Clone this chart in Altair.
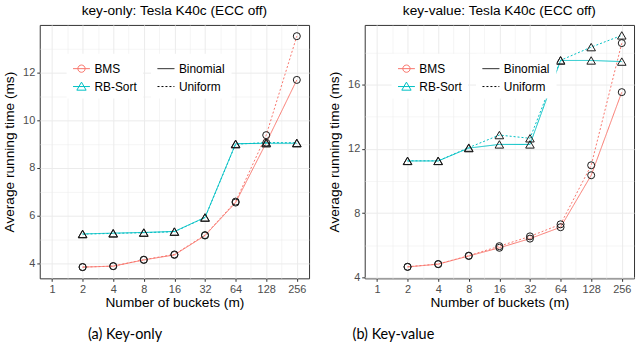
import altair as alt
import pandas as pd

# ---------------- data ----------------
buckets = [2, 4, 8, 16, 32, 64, 128, 256]
methods = ["BMS", "RB-Sort"]
dists = ["Binomial", "Uniform"]

# key-only panel
ko_bms_binomial = [3.85, 3.89, 4.15, 4.36, 5.17, 6.55, 9.05, 11.68]
ko_bms_uniform = [3.85, 3.89, 4.16, 4.38, 5.19, 6.59, 9.37, 13.51]
ko_rb_binomial = [5.24, 5.27, 5.30, 5.34, 5.93, 9.01, 9.03, 9.03]
ko_rb_uniform = [5.23, 5.26, 5.29, 5.33, 5.92, 8.99, 9.06, 9.05]

# key-value panel
kv_bms_binomial = [4.65, 4.82, 5.33, 5.84, 6.41, 7.12, 10.35, 15.52]
kv_bms_uniform = [4.66, 4.83, 5.35, 5.94, 6.55, 7.30, 10.97, 18.57]
kv_rb_binomial = [11.24, 11.24, 12.04, 12.27, 12.27, 17.49, 17.49, 17.42]
kv_rb_uniform = [11.25, 11.25, 12.07, 12.85, 12.65, 17.50, 18.32, 19.05]

titles = ["key-only: Tesla K40c (ECC off)", "key-value: Tesla K40c (ECC off)"]
captions = ["(a) Key-only", "(b) Key-value"]

FONT = "Liberation Sans"
RED = "#F8766D"
CYAN = "#00BFC4"

CIRCLE_KEY = "M-1,0L1,0M0.43,0A0.43,0.43,0,1,1,-0.43,0A0.43,0.43,0,1,1,0.43,0"
TRI_KEY = "M-1,0L1,0M0,-0.52L0.55,0.43L-0.55,0.43Z"

INDEP = dict(color="independent", shape="independent", stroke="independent", strokeDash="independent")


def long_df(series):
    rows = []
    for (method, dist), vals in series.items():
        for b, v in zip(buckets, vals):
            rows.append({"m": b, "time": v, "method": method, "dist": dist})
    return pd.DataFrame(rows)


df_ko = long_df({
    ("BMS", "Binomial"): ko_bms_binomial,
    ("BMS", "Uniform"): ko_bms_uniform,
    ("RB-Sort", "Binomial"): ko_rb_binomial,
    ("RB-Sort", "Uniform"): ko_rb_uniform,
})
df_kv = long_df({
    ("BMS", "Binomial"): kv_bms_binomial,
    ("BMS", "Uniform"): kv_bms_uniform,
    ("RB-Sort", "Binomial"): kv_rb_binomial,
    ("RB-Sort", "Uniform"): kv_rb_uniform,
})


def panel(df, title, ydomain, yvalues, ystep):
    base = alt.Chart(df).transform_calculate(lx="log(datum.m)/LN2")

    x = alt.X(
        "lx:Q",
        scale=alt.Scale(domain=[-0.4, 8.4], nice=False, zero=False),
        axis=alt.Axis(
            values=[i / 2 for i in range(0, 17)],
            title="Number of buckets (m)",
            labelExpr="datum.value % 1 ? '' : format(pow(2, datum.value), 'd')",
            labelOverlap=False,
            labelFlush=False,
            gridWidth={"condition": {"test": "datum.value % 1", "value": 0.5}, "value": 1},
            tickOpacity={"condition": {"test": "datum.value % 1", "value": 0}, "value": 1},
            titlePadding=1,
        ),
    )
    y = alt.Y(
        "time:Q",
        scale=alt.Scale(domain=ydomain, nice=False, zero=False),
        axis=alt.Axis(
            values=yvalues,
            title="Average running time (ms)",
            labelExpr=f"datum.value % {ystep} ? '' : format(datum.value, 'd')",
            labelOverlap=False,
            labelFlush=False,
            gridWidth={"condition": {"test": f"datum.value % {ystep}", "value": 0.5}, "value": 1},
            tickOpacity={"condition": {"test": f"datum.value % {ystep}", "value": 0}, "value": 1},
            titlePadding=6,
        ),
    )

    common_legend = dict(
        orient="none",
        title=None,
        symbolSize=289,
        labelFont=FONT,
        labelFontSize=12,
        labelColor="black",
        labelOffset=4,
        rowPadding=3,
        padding=6,
        fillColor="white",
        symbolStrokeWidth=1,
        symbolOpacity=1,
        legendY=29,
    )

    lines = base.mark_line(strokeWidth=1).encode(
        x=x,
        y=y,
        stroke=alt.Stroke("method:N", scale=alt.Scale(range=[RED, CYAN]), legend=None),
        strokeDash=alt.StrokeDash(
            "dist:N",
            scale=alt.Scale(domain=dists, range=[[1, 0], [2, 2]]),
            legend=alt.Legend(legendX=112, symbolType="stroke", symbolStrokeColor="black", **common_legend),
        ),
    )

    pts_c = base.transform_filter("datum.method == 'BMS'").mark_point(
        shape="circle", size=50, filled=False, color="#1A1A1A", strokeWidth=1, opacity=1
    ).encode(x=x, y=y)
    pts_t = base.transform_filter("datum.method == 'RB-Sort'").mark_point(
        shape="triangle-up", size=74, filled=False, color="#1A1A1A", strokeWidth=1, opacity=1
    ).encode(x=x, y=y)

    key_legend = alt.Legend(legendX=27, **common_legend)
    key = base.transform_filter("false").mark_point(filled=False, strokeWidth=1).encode(
        x=x,
        y=y,
        color=alt.Color("method:N", scale=alt.Scale(domain=methods, range=[RED, CYAN]), legend=key_legend),
        shape=alt.Shape("method:N", scale=alt.Scale(domain=methods, range=[CIRCLE_KEY, TRI_KEY]), legend=key_legend),
    )

    return alt.layer(lines, pts_c, pts_t, key).properties(
        width=271,
        height=255,
        title=alt.TitleParams(
            title, font=FONT, fontSize=13.75, fontWeight="normal", color="black",
            anchor="middle", frame="group", offset=7,
        ),
    )


left = panel(df_ko, titles[0], [3.38, 13.98], list(range(4, 14)), 2)
right = panel(df_kv, titles[1], [3.94, 19.7], list(range(4, 19, 2)), 4)


def wrap(p, caption, dx):
    return alt.vconcat(p).properties(
        title=alt.TitleParams(
            caption, orient="bottom", anchor="middle", font="Lato", fontSize=14.5,
            fontWeight="normal", color="black", dx=dx, offset=19,
        )
    ).resolve_scale(**INDEP).resolve_legend(**INDEP)


chart = alt.hconcat(
    wrap(left, captions[0], -31), wrap(right, captions[1], -88), spacing=17
).resolve_scale(**INDEP).resolve_legend(**INDEP).properties(
    padding={"left": 2, "top": 2, "right": 3, "bottom": 3},
    background="white",
).configure_view(
    stroke="#333333", strokeWidth=1
).configure_axis(
    domain=False,
    tickColor="#333333",
    tickSize=3,
    tickWidth=1,
    labelColor="#4D4D4D",
    labelFont=FONT,
    labelFontSize=11,
    labelPadding=2,
    titleFont=FONT,
    titleFontSize=13.75,
    titleFontWeight="normal",
    titleColor="black",
    gridColor="#EBEBEB",
)

chart.save("out.html", embed_options={"renderer": "svg", "actions": False})
